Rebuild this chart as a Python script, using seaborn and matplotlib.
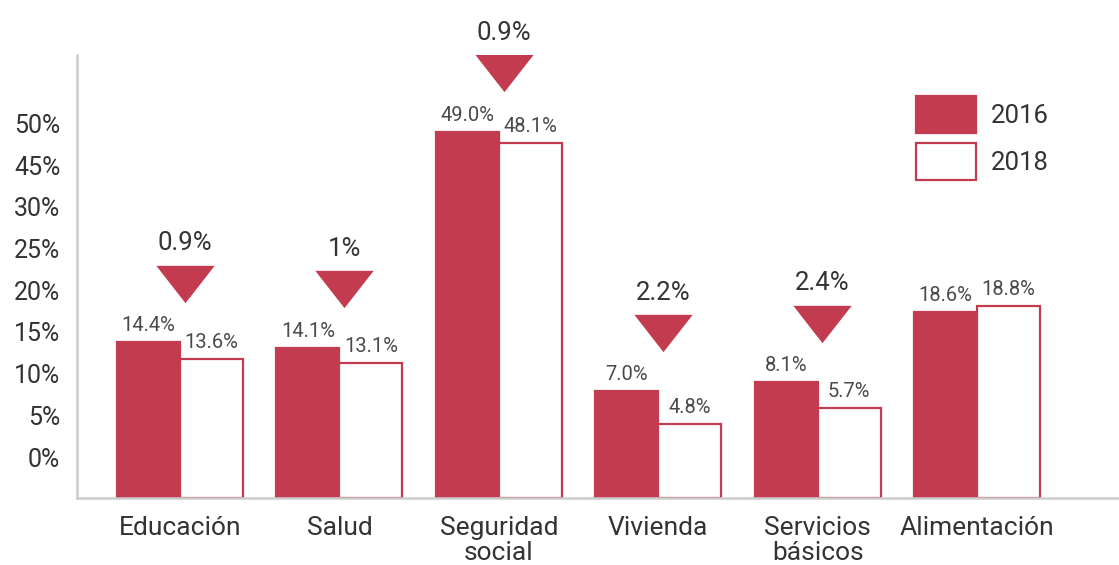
import pandas as pd
import matplotlib
matplotlib.use('Agg')
import matplotlib.pyplot as plt
import seaborn as sns
from matplotlib.patches import Patch

# categorias y valores
categorias = ['Educación', 'Salud', 'Seguridad\nsocial', 'Vivienda', 'Servicios\nbásicos', 'Alimentación']
anios = ['2016', '2018']
# alturas de barra tal como aparecen en la escala del eje
alto_2016 = [18.7, 18.0, 43.9, 12.8, 13.9, 22.3]
alto_2018 = [16.7, 16.2, 42.6, 8.9, 10.8, 23.0]
# etiquetas impresas sobre las barras
etiq_2016 = ['14.4%', '14.1%', '49.0%', '7.0%', '8.1%', '18.6%']
etiq_2018 = ['13.6%', '13.1%', '48.1%', '4.8%', '5.7%', '18.8%']
# caida entre 2016 y 2018
caida = ['0.9%', '1%', '0.9%', '2.2%', '2.4%', '']
ticks_y = ['0%', '5%', '10%', '15%', '20%', '25%', '30%', '45%', '50%']

rojo = '#C33B4F'
gris = '#333333'

sns.set_style('white')
plt.rcParams['font.family'] = ['Roboto', 'DejaVu Sans']

df = pd.DataFrame({
    'categoria': categorias * 2,
    'anio': [anios[0]] * 6 + [anios[1]] * 6,
    'alto': alto_2016 + alto_2018,
})

fig = plt.figure(figsize=(11.19, 5.65), dpi=100)
ax = fig.add_axes([77 / 1119, 67 / 565, 1 - 77 / 1119, 443 / 565])

sns.barplot(data=df, x='categoria', y='alto', hue='anio', order=categorias, hue_order=anios,
            palette={'2016': rojo, '2018': 'white'}, saturation=1, width=0.79, gap=0,
            edgecolor=rojo, linewidth=1.6, legend=False, ax=ax)

# etiquetas de valor
for cont, etiq in zip(ax.containers, [etiq_2016, etiq_2018]):
    ax.bar_label(cont, labels=etiq, padding=5, fontsize=14.5, color='#4a4a4a')

# triangulos y caidas
for i, c in enumerate(caida):
    if not c:
        continue
    y = max(alto_2016[i], alto_2018[i]) + 7.0
    ax.scatter([i + 0.03], [y], marker=[(-1, 0.64), (1, 0.64), (0, -0.64)], s=42 ** 2,
               color=rojo, linewidths=0, zorder=3)
    ax.annotate(c, (i + 0.03, y), xytext=(0, 29), textcoords='offset points',
                ha='center', va='center', fontsize=18.5, color=gris)

ax.set_xlim(-0.646, 5.89)
ax.set_ylim(0, 53.1)
ax.set_yticks([4.9 + 5 * k for k in range(len(ticks_y))])
ax.set_yticklabels(ticks_y)
ax.set_xlabel('')
ax.set_ylabel('')
ax.tick_params(axis='y', length=0, pad=12, labelsize=18, labelcolor=gris)
ax.tick_params(axis='x', length=0, pad=13, labelsize=19, labelcolor=gris)
for lab in ax.get_xticklabels():
    lab.set_linespacing(1.05)

for s in ['top', 'right']:
    ax.spines[s].set_visible(False)
for s in ['left', 'bottom']:
    ax.spines[s].set_color('#cccccc')
    ax.spines[s].set_linewidth(1.8)

handles = [Patch(facecolor=rojo, edgecolor=rojo, linewidth=1.6),
           Patch(facecolor='white', edgecolor=rojo, linewidth=1.6)]
fig.legend(handles, anios, loc='upper left', bbox_to_anchor=(916 / 1119, 1 - 96 / 565),
           frameon=False, fontsize=18.5, handlelength=2.35, handleheight=1.84,
           labelspacing=0.4, handletextpad=0.56, borderpad=0, borderaxespad=0, labelcolor=gris)

fig.savefig('out.png', dpi=100)
